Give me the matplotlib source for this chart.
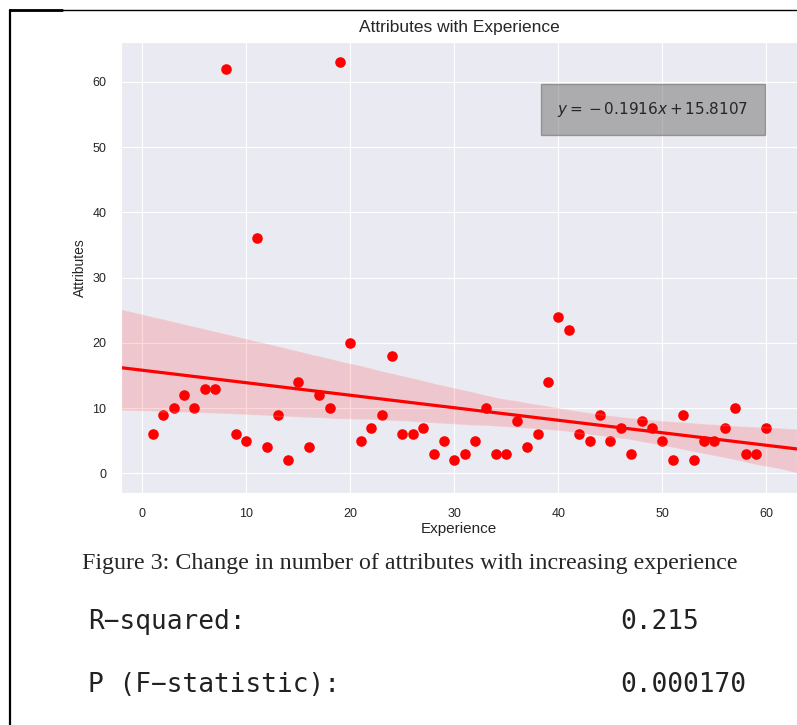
import numpy as np
import matplotlib
matplotlib.use("Agg")
import matplotlib.pyplot as plt
import seaborn as sns
from matplotlib.lines import Line2D

experience = [1, 2, 3, 4, 5, 6, 7, 8, 9, 10,
              11, 12, 13, 14, 15, 16, 17, 18, 19, 20,
              21, 22, 23, 24, 25, 26, 27, 28, 29, 30,
              31, 32, 33, 34, 35, 36, 37, 38, 39, 40,
              41, 42, 43, 44, 45, 46, 47, 48, 49, 50,
              51, 52, 53, 54, 55, 56, 57, 58, 59, 60]
attributes = [6, 9, 10, 12, 10, 13, 13, 62, 6, 5,
              36, 4, 9, 2, 14, 4, 12, 10, 63, 20,
              5, 7, 9, 18, 6, 6, 7, 3, 5, 2,
              3, 5, 10, 3, 3, 8, 4, 6, 14, 24,
              22, 6, 5, 9, 5, 7, 3, 8, 7, 5,
              2, 9, 2, 5, 5, 7, 10, 3, 3, 7]

equation = r"$y = {}-0.1916x + 15.8107$"
caption = "Figure 3: Change in number of attributes with increasing experience"
stats = [("R\u2212squared:", "0.215"), ("P (F\u2212statistic):", "0.000170")]

sns.set_style("darkgrid")
plt.rcParams["font.family"] = ["Liberation Sans", "DejaVu Sans"]

fig = plt.figure(figsize=(7.97, 7.25), dpi=100)
ax = fig.add_axes([121/797, 1 - 493/725, 1 - 121/797, (493 - 42)/725])
ax.set_xlim(-2.05, 62.95)
ax.set_ylim(-3.0, 66.1)

sns.regplot(x=np.array(experience), y=np.array(attributes), ax=ax, color="red",
            truncate=False, seed=3,
            scatter_kws={"s": 58, "alpha": 1, "linewidths": 0},
            line_kws={"lw": 2.3})
ax.set_xlim(-2.05, 62.95)
ax.set_ylim(-3.0, 66.1)
ax.set_xticks(range(0, 61, 10))
ax.set_yticks(range(0, 61, 10))
ax.tick_params(labelsize=9, pad=7)
ax.set_title("Attributes with Experience", fontsize=12.5, pad=7)
ax.set_xlabel("Experience", fontsize=11, labelpad=2)
ax.set_ylabel("Attributes", fontsize=10, labelpad=4)

ax.text(0.787, 0.85, equation, transform=ax.transAxes, ha="center", va="center",
        fontsize=11, color="#262626",
        bbox=dict(boxstyle="square,pad=1.05", facecolor="gray",
                  edgecolor="dimgray", alpha=0.58))

fig.text(82/797, 1 - 563/725, caption, family="Liberation Serif", fontsize=17.3,
         ha="left", va="center")
for i, (label, val) in enumerate(stats):
    y = 1 - (622 + 63*i)/725
    fig.text(88/797, y, label, family="DejaVu Sans Mono", fontsize=18.8,
             ha="left", va="center", color="#222222")
    fig.text(620/797, y, val, family="DejaVu Sans Mono", fontsize=18.8,
             ha="left", va="center", color="#222222")

# page border
fig.add_artist(Line2D([10/797, 10/797], [0, 1 - 10/725], color="black", lw=1.6))
fig.add_artist(Line2D([10/797, 1], [1 - 10/725, 1 - 10/725], color="black", lw=1.0))
fig.add_artist(Line2D([10/797, 62/797], [1 - 10/725, 1 - 10/725], color="black", lw=2.0))

fig.savefig("out.png", dpi=100)
